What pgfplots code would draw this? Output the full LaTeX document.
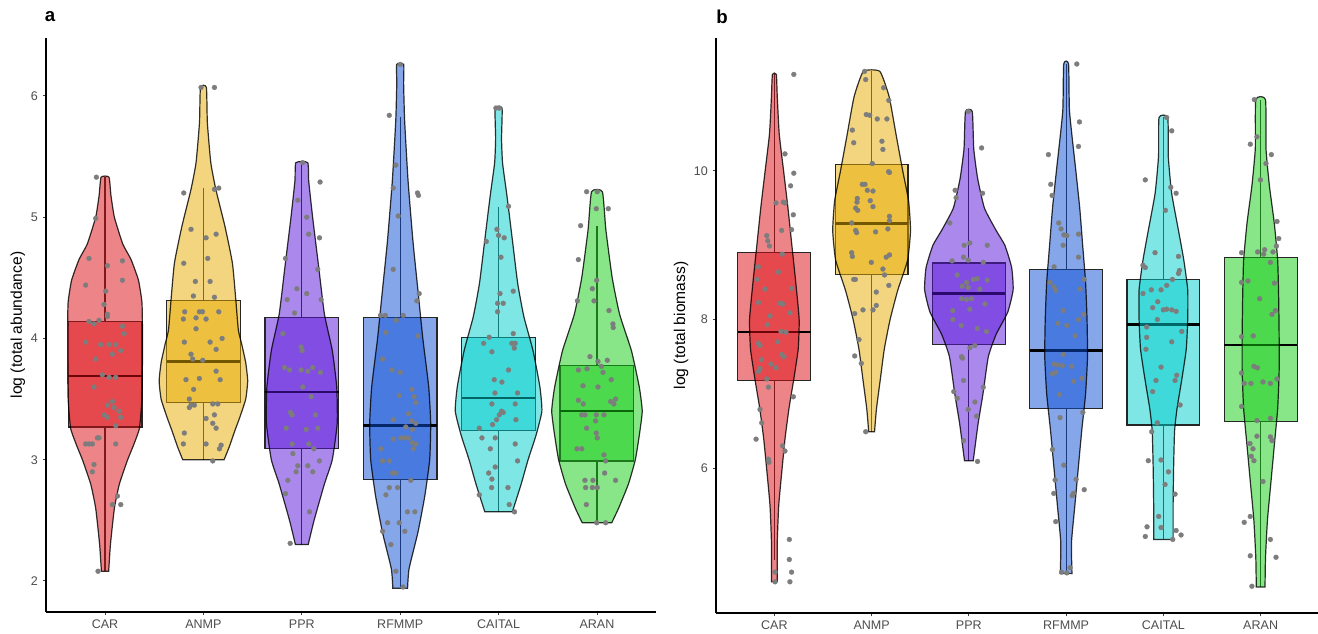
\documentclass[border=0pt]{standalone}
\usepackage{pgfplots}
\pgfplotsset{compat=1.18}
\usepackage{pgfplotstable}
\usepackage{fontspec}
\setmainfont{Liberation Sans}

\definecolor{cCAR}{RGB}{220,12,18}
\definecolor{cANMP}{RGB}{231,172,0}
\definecolor{cPPR}{RGB}{88,18,218}
\definecolor{cRF}{RGB}{12,78,212}
\definecolor{cCAI}{RGB}{0,205,206}
\definecolor{cARAN}{RGB}{18,204,18}
\definecolor{ptgray}{RGB}{125,125,125}
\definecolor{ticktxt}{RGB}{77,77,77}

% box: #1 centre, #2 lower whisker, #3 Q1, #4 median, #5 Q3, #6 upper whisker, #7 colour
\newcommand{\bx}[7]{%
 \addplot[draw=black!85, line width=0.9pt, fill=#7, fill opacity=0.5] table[x expr=\thisrow{d}+#1, y=y, row sep=\\]{d y\\ -0.375 #3\\ 0.375 #3\\ 0.375 #5\\ -0.375 #5\\} --cycle;
 \addplot[black!85, line width=0.9pt] table[x expr=\thisrow{d}+#1, y=y, row sep=\\]{d y\\ 0 #2\\ 0 #3\\};
 \addplot[black!85, line width=0.9pt] table[x expr=\thisrow{d}+#1, y=y, row sep=\\]{d y\\ 0 #5\\ 0 #6\\};
 \addplot[black, line width=1.9pt] table[x expr=\thisrow{d}+#1, y=y, row sep=\\]{d y\\ -0.375 #4\\ 0.375 #4\\};
}
% violin: #1 centre, #2 colour, #3 outline (half-width offset, y)
\newcommand{\vio}[3]{%
 \addplot[fill=#2, fill opacity=0.5, draw=black, draw opacity=0.8, line width=0.9pt, smooth, tension=0.3] table[x expr=\thisrow{d}+#1, y=y, row sep=\\]{d y\\ #3} --cycle;
}

\pgfplotstableread{
x y
0.912 5.33
0.905 4.99
0.837 4.66
1.024 4.60
1.177 4.64
0.803 4.44
1.007 4.39
1.177 4.48
0.99 4.28
1.024 4.20
0.837 4.14
0.888 4.12
0.939 4.15
1.024 4.18
1.177 4.10
1.194 4.04
0.803 3.97
0.956 3.95
1.041 3.95
1.109 3.95
1.075 3.87
1.160 3.90
0.905 3.83
0.973 3.70
1.041 3.68
1.109 3.68
0.888 3.60
1.075 3.48
1.024 3.45
1.092 3.43
0.99 3.37
1.143 3.40
1.160 3.35
1.109 3.28
1.024 3.35
0.922 3.18
0.939 3.18
0.837 3.13
0.871 3.13
0.803 3.13
1.109 3.13
0.888 2.96
0.871 2.90
1.126 2.70
1.160 2.63
1.075 2.63
0.929 2.08
1.976 6.07
2.112 6.07
1.80 5.20
2.112 5.23
2.156 5.24
1.874 4.90
2.027 4.83
2.129 4.86
1.80 4.62
2.044 4.66
1.918 4.47
2.068 4.47
1.898 4.35
2.112 4.34
1.81 4.22
1.96 4.22
1.99 4.22
2.156 4.22
1.925 4.17
1.796 4.16
2.027 4.16
1.925 4.08
2.19 4.00
1.806 3.97
2.068 3.97
2.129 3.91
1.874 3.87
1.891 3.83
1.993 3.82
1.823 3.66
1.959 3.67
2.17 3.66
2.129 3.73
1.901 3.58
1.857 3.50
1.874 3.45
1.908 3.45
1.857 3.43
2.095 3.46
2.146 3.46
2.112 3.37
2.027 3.34
2.095 3.30
2.129 3.26
1.806 3.22
1.796 3.13
2.027 3.13
2.18 3.12
2.163 3.09
2.095 2.99
3.01 5.45
3.186 5.29
2.96 5.14
3.05 5.00
3.07 4.86
3.18 4.83
2.834 4.66
3.162 4.57
2.95 4.41
3.05 4.37
2.851 4.32
3.196 4.32
2.926 4.21
2.807 4.04
2.993 3.93
3.003 3.90
2.824 3.76
2.875 3.74
2.993 3.74
3.061 3.73
3.111 3.76
3.189 3.72
3.01 3.60
3.095 3.52
2.885 3.39
2.902 3.37
3.139 3.37
3.162 3.26
2.841 3.26
3.044 3.25
2.902 3.13
3.071 3.13
3.122 3.09
2.909 3.05
3.179 2.99
2.959 2.95
3.061 2.95
2.942 2.90
3.111 2.90
2.858 2.83
2.834 2.72
3.078 2.57
2.882 2.31
4.0 6.26
3.889 5.84
3.956 5.43
3.929 5.24
4.176 5.20
4.186 5.18
3.98 5.01
3.929 4.57
4.193 4.37
4.169 4.31
3.80 4.19
3.85 4.19
3.96 4.15
4.03 4.19
3.855 4.05
4.176 4.02
3.821 3.83
3.916 3.74
4.0 3.72
4.118 3.58
4.142 3.52
4.159 3.47
3.99 3.53
4.084 3.38
3.929 3.33
4.115 3.32
4.057 3.27
4.125 3.25
4.159 3.30
4.051 3.18
4.084 3.18
4.125 3.14
4.159 3.13
4.132 3.09
3.929 3.17
4.007 3.18
3.804 3.09
3.821 2.99
3.889 2.99
3.922 2.89
3.956 2.89
4.108 2.83
3.889 2.77
3.973 2.77
3.855 2.71
3.872 2.48
3.99 2.48
4.074 2.57
4.149 2.57
4.047 2.41
3.821 2.41
3.905 2.30
3.956 2.08
4.03 1.95
4.973 5.90
5.007 5.90
5.101 5.09
4.983 4.90
5.0 4.85
5.057 4.83
4.875 4.80
5.024 4.67
5.149 4.39
5.014 4.37
4.99 4.29
5.047 4.29
4.99 4.22
5.149 4.04
5.169 3.96
5.135 3.96
5.159 3.92
4.905 4.01
4.848 3.96
4.932 3.89
5.101 3.74
4.956 3.66
5.034 3.64
4.963 3.55
5.193 3.55
4.932 3.46
5.169 3.46
5.03 3.40
5.047 3.39
5.007 3.37
4.98 3.33
4.939 3.29
5.176 3.33
4.804 3.26
4.831 3.18
4.966 3.18
5.169 3.13
4.916 3.09
4.966 2.94
5.193 2.99
4.899 2.89
4.932 2.84
4.929 2.77
5.095 2.77
4.804 2.71
5.108 2.63
5.162 2.57
5.895 5.21
6.003 5.21
5.993 5.07
6.115 5.07
5.834 4.93
5.811 4.65
5.997 4.48
5.953 4.41
5.801 4.31
5.97 4.31
6.122 4.23
6.162 4.12
6.165 4.09
5.929 3.85
6.105 3.82
6.01 3.81
6.044 3.77
6.061 3.72
5.811 3.74
5.899 3.75
6.145 3.66
5.858 3.61
6.01 3.60
5.811 3.49
5.861 3.46
6.172 3.46
6.139 3.48
6.189 3.50
5.993 3.37
6.071 3.37
5.986 3.32
5.845 3.37
5.878 3.37
5.895 3.26
5.993 3.22
6.003 3.18
5.797 3.09
5.845 3.09
6.071 3.04
6.088 2.99
6.078 2.89
5.878 2.83
5.959 2.83
6.189 2.83
5.885 2.77
5.953 2.77
6.003 2.77
5.892 2.63
5.997 2.48
6.088 2.48
}\ptsA

\pgfplotstableread{
x y
1.20 11.30
1.109 10.23
1.20 9.97
1.167 9.80
1.017 9.57
1.092 9.58
1.109 9.57
1.195 9.41
1.075 9.20
1.177 9.21
0.922 9.13
0.932 9.06
0.949 8.99
1.082 8.88
0.836 8.71
0.82 8.54
1.041 8.64
0.904 8.41
1.177 8.42
0.836 8.23
1.058 8.22
1.085 8.21
1.160 8.09
0.956 8.05
0.928 7.93
1.068 7.84
1.119 7.83
0.836 7.68
0.853 7.65
1.034 7.70
1.075 7.53
1.099 7.50
0.867 7.46
0.966 7.40
0.853 7.34
0.836 7.30
1.017 7.35
0.922 7.20
0.939 7.09
1.195 6.96
0.853 6.79
0.870 6.61
0.812 6.39
1.085 6.30
1.109 6.23
0.939 6.12
0.945 6.08
1.154 5.04
1.154 4.77
1.177 4.60
1.007 4.60
1.007 4.47
1.160 4.47
1.928 11.34
1.939 11.23
2.123 11.12
2.177 10.95
1.945 10.76
1.98 10.75
2.058 10.70
2.157 10.70
1.802 10.55
1.816 10.38
2.106 10.40
2.116 10.29
2.007 10.10
2.174 9.99
2.184 9.98
1.904 9.82
1.932 9.82
2.014 9.73
1.956 9.74
1.853 9.63
1.85 9.58
1.986 9.60
2.014 9.52
1.836 9.50
1.857 9.47
2.184 9.39
2.184 9.33
2.167 9.22
1.795 9.30
1.836 9.20
1.846 9.17
2.041 9.18
1.795 8.90
1.802 8.85
2.184 8.87
2.150 8.84
1.997 8.77
1.816 8.54
1.833 8.54
2.116 8.68
2.133 8.60
2.048 8.37
2.177 8.46
2.048 8.19
1.911 8.13
1.826 8.08
2.014 8.13
1.87 7.73
1.826 7.51
1.894 7.41
1.939 6.49
2.993 10.80
3.131 10.31
2.859 9.74
2.869 9.64
3.141 9.70
2.804 9.30
2.952 9.00
3.010 9.03
3.189 9.00
2.945 8.84
2.993 8.80
2.828 8.79
3.148 8.77
2.880 8.60
3.045 8.54
3.086 8.55
2.976 8.50
3.189 8.53
2.931 8.45
2.993 8.43
3.113 8.41
2.924 8.28
2.976 8.27
3.028 8.28
3.165 8.21
2.835 8.12
3.010 8.14
2.835 8.00
2.921 7.92
3.086 7.88
3.182 7.84
3.062 7.65
3.010 7.62
2.924 7.50
2.935 7.48
2.945 7.18
3.148 7.09
2.845 7.03
2.880 6.94
3.062 6.89
2.993 6.79
3.079 6.70
2.945 6.37
3.089 6.09
4.11 11.44
4.137 10.66
4.127 10.33
3.818 10.22
3.842 9.82
3.856 9.67
3.924 9.30
3.948 9.22
3.976 9.14
4.007 9.13
4.127 9.15
3.969 9.00
4.127 8.84
3.876 8.71
4.186 8.54
3.835 8.50
3.876 8.44
3.893 8.39
4.144 8.41
3.969 8.12
4.179 8.07
3.914 7.95
4.007 7.92
4.127 8.00
4.093 7.78
3.969 7.53
3.876 7.40
3.911 7.39
3.962 7.38
4.058 7.37
3.859 7.27
3.893 7.29
4.076 7.17
4.162 7.21
3.931 6.99
3.938 6.68
4.172 6.75
3.859 6.25
3.976 6.04
4.103 5.85
4.076 5.66
4.062 5.63
4.186 5.71
3.887 5.84
3.873 5.66
3.893 5.28
3.952 4.60
4.007 4.59
4.041 4.66
5.034 10.72
5.086 10.54
4.814 9.88
5.076 9.78
5.131 9.70
5.021 9.47
4.914 8.90
5.155 8.85
4.79 8.73
4.814 8.70
5.165 8.66
5.155 8.62
5.093 8.54
4.79 8.35
4.876 8.40
5.034 8.46
4.976 8.40
4.942 8.24
4.89 8.16
5.0 8.13
5.034 8.14
5.086 8.13
5.131 8.11
4.938 8.00
4.828 7.90
5.189 7.84
5.086 7.70
4.828 7.76
4.821 7.60
4.976 7.36
5.137 7.25
5.120 7.18
4.924 7.18
4.890 7.03
5.172 6.85
4.938 6.61
4.880 6.49
4.845 6.10
4.976 6.11
5.052 5.95
5.017 5.78
5.120 5.65
4.952 5.35
4.832 5.21
4.814 5.08
4.976 5.20
5.131 5.16
5.182 5.10
5.096 5.04
5.935 10.96
5.894 10.36
5.962 10.46
6.110 10.22
6.055 10.10
5.997 9.88
6.168 9.32
6.186 9.09
6.162 8.99
5.804 8.90
5.969 8.91
6.041 8.94
6.127 8.91
6.031 8.88
6.100 8.77
5.804 8.50
5.869 8.52
6.141 8.49
5.990 8.28
6.117 8.07
6.151 8.12
5.804 7.77
5.924 7.78
5.931 7.37
5.966 7.35
5.804 7.28
5.831 7.14
5.900 7.14
6.024 7.16
6.100 7.14
6.168 7.20
5.804 6.83
6.100 6.67
5.962 6.64
5.962 6.43
5.890 6.33
5.921 6.26
6.100 6.42
6.117 6.37
5.904 6.16
5.931 6.10
6.024 5.82
5.893 5.35
5.831 5.27
6.100 5.04
6.158 4.80
5.893 4.82
5.910 4.41
}\ptsB

\pgfplotsset{
 panel/.style={
  scale only axis, anchor=south west,
  axis x line=bottom, axis y line=left,
  axis line style={black, line width=0.9pt, -},
  xmin=0.4, xmax=6.6,
  xtick={1,2,3,4,5,6}, xticklabels={CAR,ANMP,PPR,RFMMP,CAITAL,ARAN},
  tick align=outside, major tick length=2.6pt,
  tick style={black!75, line width=0.7pt},
  ticklabel style={font=\fontsize{9.4}{11}\selectfont, text=ticktxt},
  /pgf/number format/assume math mode=true,
  ylabel style={font=\fontsize{11.7}{13}\selectfont, anchor=center},
 },
 pts/.style={only marks, mark=*, mark size=1.85pt, mark options={draw=ptgray, fill=ptgray, line width=0.2pt}},
}

\begin{document}
\begin{tikzpicture}
\path[use as bounding box] (0,0) rectangle (988.5pt,475.5pt);

% ---------------- panel a ----------------
\begin{axis}[panel, at={(34.5pt,16.5pt)}, width=457.5pt, height=430.5pt,
  ymin=1.744, ymax=6.478, ytick={2,3,4,5,6},
  ylabel={log (total abundance)},
  ylabel style={at={(axis description cs:-0.046,0.5)}}]
\bx{1}{2.08}{3.27}{3.69}{4.14}{5.33}{cCAR}
\bx{2}{3.00}{3.47}{3.81}{4.31}{5.24}{cANMP}
\bx{3}{2.30}{3.09}{3.56}{4.17}{5.45}{cPPR}
\bx{4}{1.95}{2.84}{3.28}{4.17}{5.83}{cRF}
\bx{5}{2.57}{3.24}{3.51}{4.01}{5.08}{cCAI}
\bx{6}{2.48}{2.99}{3.40}{3.78}{4.93}{cARAN}
\addplot[pts] table[x=x, y=y] {\ptsA};
\vio{1}{cCAR}{0.037 2.08\\ 0.055 2.3\\ 0.095 2.6\\ 0.146 2.8\\ 0.23 3.0\\ 0.29 3.12\\ 0.35 3.26\\ 0.375 3.5\\ 0.38 3.8\\ 0.38 4.1\\ 0.375 4.3\\ 0.34 4.48\\ 0.265 4.65\\ 0.18 4.78\\ 0.095 5.0\\ 0.06 5.18\\ 0.04 5.33\\ -0.04 5.33\\ -0.06 5.18\\ -0.095 5.0\\ -0.18 4.78\\ -0.265 4.65\\ -0.34 4.48\\ -0.375 4.3\\ -0.38 4.1\\ -0.38 3.8\\ -0.375 3.5\\ -0.35 3.26\\ -0.29 3.12\\ -0.23 3.0\\ -0.146 2.8\\ -0.095 2.6\\ -0.055 2.3\\ -0.037 2.08\\}
\vio{2}{cANMP}{0.21 3.0\\ 0.26 3.1\\ 0.32 3.24\\ 0.37 3.35\\ 0.43 3.5\\ 0.45 3.65\\ 0.43 3.8\\ 0.39 3.95\\ 0.355 4.07\\ 0.33 4.31\\ 0.295 4.62\\ 0.22 4.92\\ 0.126 5.23\\ 0.075 5.45\\ 0.04 5.78\\ 0.03 6.07\\ -0.03 6.07\\ -0.04 5.78\\ -0.075 5.45\\ -0.126 5.23\\ -0.22 4.92\\ -0.295 4.62\\ -0.33 4.31\\ -0.355 4.07\\ -0.39 3.95\\ -0.43 3.8\\ -0.45 3.65\\ -0.43 3.5\\ -0.37 3.35\\ -0.32 3.24\\ -0.26 3.1\\ -0.21 3.0\\}
\vio{3}{cPPR}{0.065 2.3\\ 0.125 2.5\\ 0.23 2.8\\ 0.31 3.0\\ 0.36 3.3\\ 0.355 3.6\\ 0.31 3.9\\ 0.23 4.2\\ 0.17 4.6\\ 0.11 5.0\\ 0.07 5.3\\ 0.06 5.45\\ -0.06 5.45\\ -0.07 5.3\\ -0.11 5.0\\ -0.17 4.6\\ -0.23 4.2\\ -0.31 3.9\\ -0.355 3.6\\ -0.36 3.3\\ -0.31 3.0\\ -0.23 2.8\\ -0.125 2.5\\ -0.065 2.3\\}
\vio{4}{cRF}{0.075 1.94\\ 0.09 2.1\\ 0.18 2.4\\ 0.25 2.7\\ 0.30 3.0\\ 0.31 3.3\\ 0.29 3.6\\ 0.23 4.0\\ 0.18 4.4\\ 0.13 4.8\\ 0.08 5.3\\ 0.045 5.8\\ 0.035 6.1\\ 0.035 6.26\\ -0.035 6.26\\ -0.035 6.1\\ -0.045 5.8\\ -0.08 5.3\\ -0.13 4.8\\ -0.18 4.4\\ -0.23 4.0\\ -0.29 3.6\\ -0.31 3.3\\ -0.30 3.0\\ -0.25 2.7\\ -0.18 2.4\\ -0.09 2.1\\ -0.075 1.94\\}
\vio{5}{cCAI}{0.14 2.57\\ 0.23 2.8\\ 0.30 3.0\\ 0.38 3.2\\ 0.44 3.4\\ 0.42 3.6\\ 0.35 3.9\\ 0.257 4.18\\ 0.195 4.45\\ 0.145 4.78\\ 0.1 5.08\\ 0.078 5.22\\ 0.04 5.45\\ 0.03 5.65\\ 0.035 5.9\\ -0.035 5.9\\ -0.03 5.65\\ -0.04 5.45\\ -0.078 5.22\\ -0.1 5.08\\ -0.145 4.78\\ -0.195 4.45\\ -0.257 4.18\\ -0.35 3.9\\ -0.42 3.6\\ -0.44 3.4\\ -0.38 3.2\\ -0.30 3.0\\ -0.23 2.8\\ -0.14 2.57\\}
\vio{6}{cARAN}{0.15 2.48\\ 0.22 2.6\\ 0.32 2.8\\ 0.39 3.0\\ 0.43 3.2\\ 0.46 3.4\\ 0.43 3.6\\ 0.35 3.9\\ 0.23 4.2\\ 0.155 4.5\\ 0.09 4.9\\ 0.055 5.21\\ -0.055 5.21\\ -0.09 4.9\\ -0.155 4.5\\ -0.23 4.2\\ -0.35 3.9\\ -0.43 3.6\\ -0.46 3.4\\ -0.43 3.2\\ -0.39 3.0\\ -0.32 2.8\\ -0.22 2.6\\ -0.15 2.48\\}
\end{axis}

% ---------------- panel b ----------------
\begin{axis}[panel, at={(537pt,15.75pt)}, width=452.25pt, height=431.25pt,
  ymin=4.05, ymax=11.79, ytick={6,8,10},
  ylabel={log (total biomass)},
  ylabel style={at={(axis description cs:-0.058,0.5)}}]
\bx{1}{4.77}{7.18}{7.83}{8.90}{11.30}{cCAR}
\bx{2}{6.49}{8.61}{9.29}{10.09}{11.34}{cANMP}
\bx{3}{6.10}{7.66}{8.35}{8.76}{10.31}{cPPR}
\bx{4}{4.58}{6.80}{7.58}{8.67}{11.44}{cRF}
\bx{5}{5.04}{6.58}{7.93}{8.54}{10.72}{cCAI}
\bx{6}{4.40}{6.63}{7.66}{8.83}{10.96}{cARAN}
\addplot[pts] table[x=x, y=y] {\ptsB};
\vio{1}{cCAR}{0.03 4.47\\ 0.03 5.0\\ 0.045 5.5\\ 0.08 6.0\\ 0.11 6.4\\ 0.15 6.8\\ 0.2 7.2\\ 0.245 7.6\\ 0.255 8.0\\ 0.22 8.5\\ 0.18 9.0\\ 0.14 9.5\\ 0.095 10.0\\ 0.05 10.5\\ 0.03 11.0\\ 0.02 11.3\\ -0.02 11.3\\ -0.03 11.0\\ -0.05 10.5\\ -0.095 10.0\\ -0.14 9.5\\ -0.18 9.0\\ -0.22 8.5\\ -0.255 8.0\\ -0.245 7.6\\ -0.2 7.2\\ -0.15 6.8\\ -0.11 6.4\\ -0.08 6.0\\ -0.045 5.5\\ -0.03 5.0\\ -0.03 4.47\\}
\vio{2}{cANMP}{0.03 6.49\\ 0.05 6.8\\ 0.09 7.2\\ 0.13 7.6\\ 0.19 8.0\\ 0.27 8.4\\ 0.37 8.8\\ 0.40 9.2\\ 0.38 9.6\\ 0.32 10.0\\ 0.25 10.5\\ 0.18 11.0\\ 0.085 11.34\\ -0.085 11.34\\ -0.18 11.0\\ -0.25 10.5\\ -0.32 10.0\\ -0.38 9.6\\ -0.40 9.2\\ -0.37 8.8\\ -0.27 8.4\\ -0.19 8.0\\ -0.13 7.6\\ -0.09 7.2\\ -0.05 6.8\\ -0.03 6.49\\}
\vio{3}{cPPR}{0.045 6.1\\ 0.095 6.6\\ 0.145 7.0\\ 0.20 7.5\\ 0.28 7.8\\ 0.40 8.1\\ 0.455 8.4\\ 0.44 8.7\\ 0.37 9.0\\ 0.28 9.2\\ 0.16 9.5\\ 0.09 9.9\\ 0.05 10.3\\ 0.035 10.8\\ -0.035 10.8\\ -0.05 10.3\\ -0.09 9.9\\ -0.16 9.5\\ -0.28 9.2\\ -0.37 9.0\\ -0.44 8.7\\ -0.455 8.4\\ -0.40 8.1\\ -0.28 7.8\\ -0.20 7.5\\ -0.145 7.0\\ -0.095 6.6\\ -0.045 6.1\\}
\vio{4}{cRF}{0.06 4.58\\ 0.055 5.0\\ 0.09 5.5\\ 0.125 6.0\\ 0.16 6.5\\ 0.2 7.0\\ 0.22 7.5\\ 0.215 8.0\\ 0.2 8.5\\ 0.17 9.0\\ 0.14 9.5\\ 0.1 10.0\\ 0.035 10.8\\ 0.025 11.44\\ -0.025 11.44\\ -0.035 10.8\\ -0.1 10.0\\ -0.14 9.5\\ -0.17 9.0\\ -0.2 8.5\\ -0.215 8.0\\ -0.22 7.5\\ -0.2 7.0\\ -0.16 6.5\\ -0.125 6.0\\ -0.09 5.5\\ -0.055 5.0\\ -0.06 4.58\\}
\vio{5}{cCAI}{0.1 5.04\\ 0.1 5.5\\ 0.105 6.0\\ 0.115 6.5\\ 0.14 6.8\\ 0.19 7.2\\ 0.235 7.6\\ 0.25 8.0\\ 0.25 8.4\\ 0.21 8.8\\ 0.155 9.2\\ 0.085 9.7\\ 0.05 10.2\\ 0.045 10.72\\ -0.045 10.72\\ -0.05 10.2\\ -0.085 9.7\\ -0.155 9.2\\ -0.21 8.8\\ -0.25 8.4\\ -0.25 8.0\\ -0.235 7.6\\ -0.19 7.2\\ -0.14 6.8\\ -0.115 6.5\\ -0.105 6.0\\ -0.1 5.5\\ -0.1 5.04\\}
\vio{6}{cARAN}{0.045 4.4\\ 0.05 4.8\\ 0.07 5.3\\ 0.105 5.8\\ 0.14 6.3\\ 0.175 6.8\\ 0.19 7.3\\ 0.19 7.8\\ 0.185 8.3\\ 0.175 8.8\\ 0.14 9.3\\ 0.09 9.8\\ 0.055 10.3\\ 0.05 10.96\\ -0.05 10.96\\ -0.055 10.3\\ -0.09 9.8\\ -0.14 9.3\\ -0.175 8.8\\ -0.185 8.3\\ -0.19 7.8\\ -0.19 7.3\\ -0.175 6.8\\ -0.14 6.3\\ -0.105 5.8\\ -0.07 5.3\\ -0.05 4.8\\ -0.045 4.4\\}
\end{axis}

\node[font=\fontsize{14}{16}\selectfont\bfseries, anchor=center] at (37.5pt,462.75pt) {a};
\node[font=\fontsize{14}{16}\selectfont\bfseries, anchor=center] at (541.5pt,462.75pt) {b};
\end{tikzpicture}
\end{document}
